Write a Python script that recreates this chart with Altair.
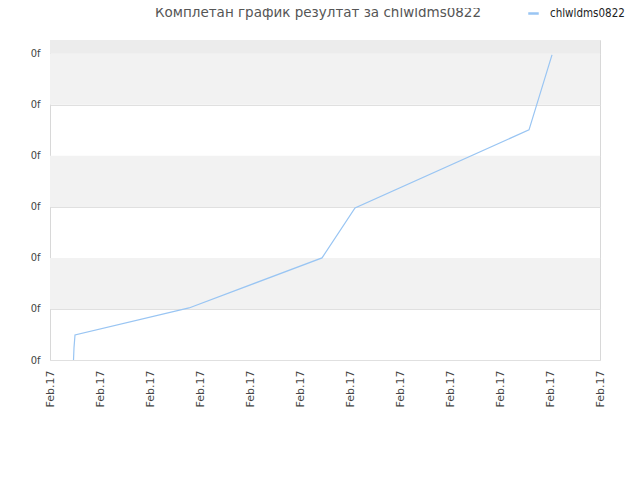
import altair as alt
import pandas as pd

# line data (x in tick units, y in tick units)
xs = [0.47, 0.48, 0.50, 2.78, 5.44, 6.10, 9.58, 10.04]
ys = [0.0, 0.24, 0.49, 1.02, 2.0, 2.98, 4.51, 5.98]
series_name = "chlwldms0822"
title_text = "Комплетан график резултат за chlwldms0822"
x_ticks = list(range(0, 12))
y_ticks = list(range(0, 7))
band_lo = [1, 3, 5, 6]
band_hi = [2, 4, 6, 6.27]
band_col = ["#f2f2f2", "#f2f2f2", "#f2f2f2", "#ececec"]

line_df = pd.DataFrame({"x": xs, "y": ys, "s": [series_name] * len(xs)})
band_df = pd.DataFrame({"y": band_lo, "y2": band_hi, "c": band_col})
title_df = pd.DataFrame({"t": [title_text]})

xscale = alt.Scale(domain=[0, 11], nice=False, zero=False)
yscale = alt.Scale(domain=[0, 6.27], nice=False, zero=False)

bands = alt.Chart(band_df).mark_rect().encode(
    y=alt.Y("y:Q", scale=yscale),
    y2="y2:Q",
    x=alt.value(0),
    x2=alt.value(550),
    fill=alt.Fill("c:N", scale=None, legend=None),
)

line = alt.Chart(line_df).mark_line(strokeWidth=1.2).encode(
    x=alt.X("x:Q", scale=xscale,
            axis=alt.Axis(values=x_ticks, labelExpr="'Feb.17'", labelAngle=-90,
                          labelAlign="right", labelBaseline="middle", labelPadding=10,
                          ticks=False, grid=False, domain=False, title=None,
                          labelFont="DejaVu Sans", labelFontSize=11,
                          labelColor="#444")),
    y=alt.Y("y:Q", scale=yscale,
            axis=alt.Axis(values=y_ticks, labelExpr="'0f'", ticks=False,
                          grid=True, gridColor="#e0e0e0", domain=False, title=None,
                          labelPadding=10, labelFont="DejaVu Sans Condensed",
                          labelFontSize=11, labelColor="#444")),
    color=alt.Color("s:N", scale=alt.Scale(range=["#99c5f3"]),
                    legend=alt.Legend(title=None, orient="none", legendX=477, legendY=-33,
                                      symbolType="stroke", symbolSize=110,
                                      symbolStrokeWidth=2.5, labelOffset=10,
                                      labelFont="DejaVu Sans Condensed",
                                      labelFontSize=11.5, labelColor="#222")),
)

title = alt.Chart(title_df).mark_text(
    font="DejaVu Sans", fontSize=13.5, color="#555", align="center", baseline="alphabetic"
).encode(text="t:N", x=alt.value(268), y=alt.value(-23))

chart = alt.layer(bands, line, title).properties(
    width=550, height=320,
    autosize="none",
    padding={"left": 42, "top": 32, "right": 32, "bottom": 112},
).configure_view(stroke="#d8d8d8", strokeWidth=1)

chart.save("out.html", embed_options={"renderer": "svg", "actions": False})
